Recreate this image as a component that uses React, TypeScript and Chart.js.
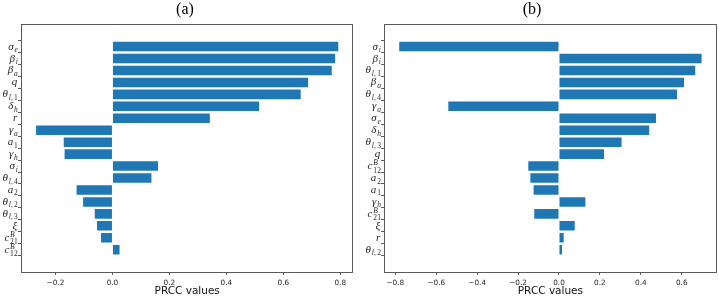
import React, { useEffect, useRef } from 'react';
import { Chart, registerables } from 'chart.js';

Chart.register(...registerables);

// ---- data ----
type MathLabel = [string, string, string]; // base, subscript, superscript

const labelsA: MathLabel[] = [
  ['σ', 'e', ''], ['β', 'i', ''], ['β', 'a', ''], ['q', '', ''], ['θ', 'l,1', ''],
  ['δ', 'h', ''], ['r', '', ''], ['γ', 'a', ''], ['a', '1', ''], ['γ', 'h', ''],
  ['σ', 'i', ''], ['θ', 'l,4', ''], ['a', '2', ''], ['θ', 'l,2', ''], ['θ', 'l,3', ''],
  ['ξ', '', ''], ['c', '21', 'B'], ['c', '12', 'B'],
];
const valuesA: number[] = [
  0.793, 0.782, 0.770, 0.687, 0.661, 0.515, 0.342, -0.268, -0.171, -0.168,
  0.160, 0.137, -0.126, -0.103, -0.062, -0.054, -0.040, 0.025,
];
const ticksA: number[] = [-0.2, 0.0, 0.2, 0.4, 0.6, 0.8];

const labelsB: MathLabel[] = [
  ['σ', 'i', ''], ['β', 'i', ''], ['θ', 'l,1', ''], ['β', 'a', ''], ['θ', 'l,4', ''],
  ['γ', 'a', ''], ['σ', 'e', ''], ['δ', 'h', ''], ['θ', 'l,3', ''], ['q', '', ''],
  ['c', '12', 'B'], ['a', '2', ''], ['a', '1', ''], ['γ', 'h', ''], ['c', '21', 'B'],
  ['ξ', '', ''], ['r', '', ''], ['θ', 'l,2', ''],
];
const valuesB: number[] = [
  -0.781, 0.697, 0.666, 0.611, 0.577, -0.541, 0.474, 0.441, 0.306, 0.220,
  -0.150, -0.140, -0.124, 0.129, -0.121, 0.077, 0.023, 0.015,
];
const ticksB: number[] = [-0.8, -0.6, -0.4, -0.2, 0.0, 0.2, 0.4, 0.6];

const titleA = '(a)';
const titleB = '(b)';
const xAxisTitle = 'PRCC values';

// ---- styling ----
const BAR_COLOR = '#1f77b4';
const SPINE_COLOR = '#5a5a5a';
const TEXT_COLOR = '#262626';
const H = 297;
const AREA_TOP = 24.3;
const AREA_BOTTOM = 272;

function fmtTick(v: number): string {
  const s = Math.abs(v) < 1e-9 ? '0.0' : v.toFixed(1);
  return s.replace('-', '\u2212');
}

function drawMathLabel(ctx: CanvasRenderingContext2D, lab: MathLabel, rightX: number, cy: number) {
  const baseSize = 11;
  const subSize = 7.5;
  const baseFont = `italic ${baseSize}px "Liberation Serif", serif`;
  const pieces = (txt: string) =>
    txt.split('').map((ch) => ({
      ch,
      font: /[0-9,]/.test(ch) ? `${subSize}px "Liberation Serif", serif` : `italic ${subSize}px "Liberation Serif", serif`,
    }));
  const [base, sub, sup] = lab;
  ctx.save();
  ctx.textBaseline = 'alphabetic';
  ctx.textAlign = 'left';
  ctx.fillStyle = TEXT_COLOR;
  ctx.font = baseFont;
  const bw = ctx.measureText(base).width;
  const subP = pieces(sub);
  const supP = pieces(sup);
  const gap = (ch: string) => (ch === ',' ? 1.2 : 0.2);
  const widthOf = (ps: { ch: string; font: string }[]) =>
    ps.reduce((acc, p) => {
      ctx.font = p.font;
      return acc + ctx.measureText(p.ch).width + gap(p.ch);
    }, 0);
  const subW = widthOf(subP);
  const supW = widthOf(supP);
  const total = bw + 0.8 + Math.max(subW, supW);
  let x = rightX - total;
  const baseline = cy + 3;
  ctx.font = baseFont;
  ctx.fillText(base, x, baseline);
  x += bw + 0.8;
  const drawPieces = (ps: { ch: string; font: string }[], y: number) => {
    let px = x;
    ps.forEach((p) => {
      ctx.font = p.font;
      ctx.fillText(p.ch, px, y);
      px += ctx.measureText(p.ch).width + gap(p.ch);
    });
  };
  if (sup) {
    drawPieces(supP, baseline - 4);
    drawPieces(subP, baseline + 3.5);
  } else {
    drawPieces(subP, baseline + 2.5);
  }
  ctx.restore();
}

interface PanelProps {
  labels: MathLabel[];
  values: number[];
  ticks: number[];
  title: string;
  left: number;
  width: number;
  areaLeft: number;
  areaRight: number;
  titleX: number;
}

function Panel({ labels, values, ticks, title, left, width, areaLeft, areaRight, titleX }: PanelProps) {
  const ref = useRef<HTMLCanvasElement | null>(null);

  useEffect(() => {
    if (!ref.current) return;
    const n = labels.length;
    const dmin = Math.min(0, ...values);
    const dmax = Math.max(0, ...values);
    const xr = dmax - dmin;
    const xmin = dmin - 0.05 * xr;
    const xmax = dmax + 0.05 * xr;
    const yext = n - 1 + 0.8;
    const ymin = -0.4 - 0.05 * yext;
    const ymax = n - 1 + 0.4 + 0.05 * yext;

    const decor = {
      id: 'decor' + title,
      afterDraw(chart: any) {
        const { ctx, chartArea } = chart;
        const ys = chart.scales.y;
        ctx.save();
        ctx.strokeStyle = SPINE_COLOR;
        ctx.lineWidth = 1;
        ctx.strokeRect(
          Math.round(chartArea.left) + 0.5,
          Math.round(chartArea.top) + 0.5,
          Math.round(chartArea.right) - Math.round(chartArea.left) - 1,
          Math.round(chartArea.bottom) - Math.round(chartArea.top)
        );
        ctx.fillStyle = '#000';
        ctx.font = '16px "Liberation Serif", serif';
        ctx.textAlign = 'center';
        ctx.textBaseline = 'middle';
        ctx.fillText(title, titleX - left, 10);
        ctx.restore();
        labels.forEach((lab, i) => {
          drawMathLabel(ctx, lab, chartArea.left - 3, ys.getPixelForValue(i));
        });
      },
    };

    const chart = new Chart(ref.current, {
      type: 'bar',
      data: {
        datasets: [
          {
            data: values.map((v, i) => ({ x: v, y: i })),
            backgroundColor: BAR_COLOR,
            borderWidth: 0,
            categoryPercentage: 0.8,
            barPercentage: 1.0,
          },
        ],
      },
      options: {
        indexAxis: 'y',
        animation: false,
        responsive: false,
        maintainAspectRatio: false,
        layout: {
          padding: { left: 0, right: width - areaRight, top: AREA_TOP, bottom: 0 },
        },
        plugins: {
          legend: { display: false },
          tooltip: { enabled: false },
          title: { display: false },
        },
        scales: {
          x: {
            type: 'linear',
            position: 'bottom',
            min: xmin,
            max: xmax,
            afterBuildTicks: (scale: any) => {
              scale.ticks = ticks.map((v) => ({ value: v }));
            },
            afterFit: (scale: any) => {
              scale.height = H - AREA_BOTTOM;
            },
            ticks: {
              callback: (v: any) => fmtTick(Number(v)),
              font: { family: '"DejaVu Sans", sans-serif', size: 7.3 },
              color: TEXT_COLOR,
              padding: 3.5,
              maxRotation: 0,
              autoSkip: false,
            },
            grid: {
              display: true,
              drawOnChartArea: false,
              drawTicks: true,
              tickLength: 3,
              color: SPINE_COLOR,
            },
            border: { display: false },
            title: {
              display: true,
              text: xAxisTitle,
              font: { family: '"DejaVu Sans", sans-serif', size: 10.5, lineHeight: 1 },
              color: '#111',
              padding: { top: 0, bottom: 0 },
            },
          },
          y: {
            type: 'linear',
            reverse: true,
            min: ymin,
            max: ymax,
            afterBuildTicks: (scale: any) => {
              scale.ticks = labels.map((_, i) => ({ value: i }));
            },
            afterFit: (scale: any) => {
              scale.width = areaLeft;
            },
            ticks: {
              callback: () => '',
              autoSkip: false,
            },
            grid: {
              display: true,
              drawOnChartArea: false,
              drawTicks: true,
              tickLength: 3,
              color: SPINE_COLOR,
            },
            border: { display: false },
          },
        },
      },
      plugins: [decor],
    } as any);

    return () => chart.destroy();
  }, [labels, values, ticks, title, left, width, areaLeft, areaRight, titleX]);

  return (
    <canvas
      ref={ref}
      width={width}
      height={H}
      style={{ position: 'absolute', left, top: 0, width, height: H }}
    />
  );
}

export default function App() {
  return (
    <div style={{ position: 'fixed', left: 0, top: 0, width: 719, height: H, background: '#fff' }}>
      <Panel
        labels={labelsA}
        values={valuesA}
        ticks={ticksA}
        title={titleA}
        left={0}
        width={360}
        areaLeft={21}
        areaRight={353.4}
        titleX={185}
      />
      <Panel
        labels={labelsB}
        values={valuesB}
        ticks={ticksB}
        title={titleB}
        left={360}
        width={359}
        areaLeft={24.1}
        areaRight={356.7}
        titleX={532}
      />
    </div>
  );
}
